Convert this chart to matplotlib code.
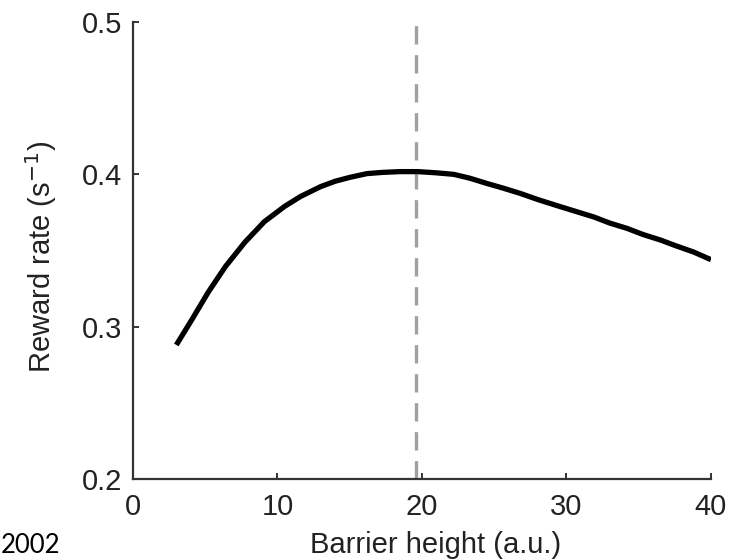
import matplotlib
matplotlib.use('Agg')
import matplotlib.pyplot as plt

# values
barrier = [3.0, 4.1, 5.2, 6.4, 7.75, 9.1, 10.5, 11.6, 13.0, 14.0, 15.0, 16.2,
           17.3, 18.5, 19.7, 21.0, 22.2, 23.3, 24.5, 25.6, 26.8, 28.0, 29.5,
           30.7, 31.9, 33.0, 34.2, 35.3, 36.5, 37.6, 38.8, 40.0]
reward = [0.288, 0.305, 0.3225, 0.3395, 0.3555, 0.369, 0.379, 0.3855, 0.392, 0.3955,
          0.398, 0.4005, 0.4013, 0.4018, 0.4018, 0.401, 0.400, 0.3975, 0.394,
          0.391, 0.3875, 0.3835, 0.379, 0.3755, 0.372, 0.368, 0.3645, 0.3605,
          0.3569, 0.353, 0.349, 0.344]
optimum = 19.6

x_ticks = [0, 10, 20, 30, 40]
y_ticks = [0.2, 0.3, 0.4, 0.5]

plt.rcParams['font.family'] = ['Liberation Sans', 'DejaVu Sans']

fig = plt.figure(figsize=(7.42, 5.59), dpi=100)
ax = fig.add_axes([0.1792, 0.1431, 0.779, 0.8175])

ax.axvline(optimum, color='#a0a0a0', lw=2.4, dashes=(5.5, 3.2), zorder=1)
ax.plot(barrier, reward, color='black', lw=3.8, solid_capstyle='butt',
        solid_joinstyle='round', zorder=2)

ax.set_xlim(0, 40)
ax.set_ylim(0.2, 0.5)
ax.set_xticks(x_ticks)
ax.set_yticks(y_ticks)
ax.set_xticklabels([str(t) for t in x_ticks])
ax.set_yticklabels(['%.1f' % t for t in y_ticks])

for side in ['top', 'right']:
    ax.spines[side].set_visible(False)
for side in ['left', 'bottom']:
    ax.spines[side].set_linewidth(1.6)
    ax.spines[side].set_color('#333333')

ax.tick_params(direction='in', length=4, width=1.4, colors='#333333',
               labelsize=21, labelcolor='#222222')
ax.tick_params(axis='y', pad=8)
ax.tick_params(axis='x', pad=10)

ax.set_xlabel('Barrier height (a.u.)', fontsize=21, color='#222222', labelpad=7)
ax.set_ylabel('Reward rate (s$^{-1}$)', fontsize=21, color='#222222', labelpad=16)
ax.xaxis.label.set_x(0.524)
ax.yaxis.label.set_y(0.486)

fig.text(1 / 742, 1 / 559, '2002', ha='left', va='bottom', fontsize=18.5,
         family=['Lato', 'DejaVu Sans'], color='black')

plt.savefig('out.png', dpi=100)
